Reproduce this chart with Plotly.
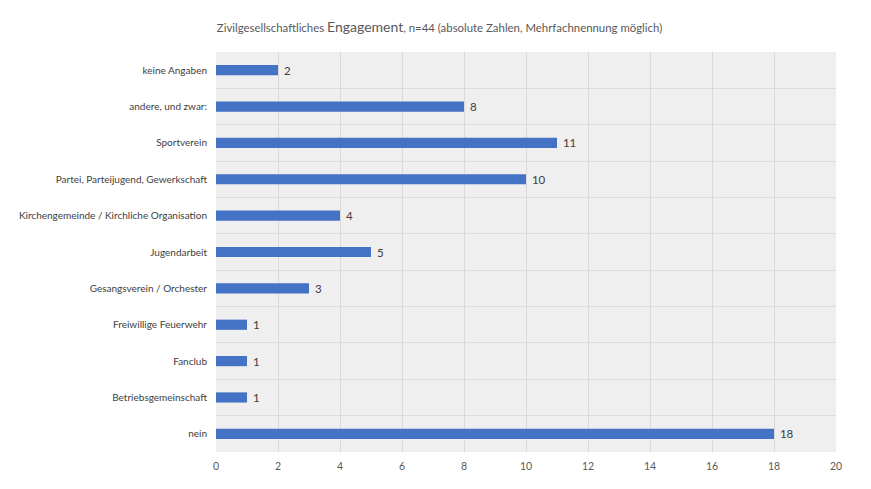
import plotly.graph_objects as go

categories = [
    "keine Angaben",
    "andere, und zwar:",
    "Sportverein",
    "Partei, Parteijugend, Gewerkschaft",
    "Kirchengemeinde / Kirchliche Organisation",
    "Jugendarbeit",
    "Gesangsverein / Orchester",
    "Freiwillige Feuerwehr",
    "Fanclub",
    "Betriebsgemeinschaft",
    "nein",
]
values = [2, 8, 11, 10, 4, 5, 3, 1, 1, 1, 18]
x_ticks = [0, 2, 4, 6, 8, 10, 12, 14, 16, 18, 20]

font_family = "Lato, Open Sans, Liberation Sans, sans-serif"

fig = go.Figure(
    go.Bar(
        x=values,
        y=categories,
        orientation="h",
        marker=dict(color="#4472C4", line=dict(width=0)),
        texttemplate=" %{x}",
        textposition="outside",
        constraintext="none",
        textfont=dict(size=11.5, color="#404040", family=font_family),
        cliponaxis=False,
    )
)

fig.update_layout(
    width=863,
    height=481,
    margin=dict(l=208, r=35, t=44, b=37, autoexpand=False),
    paper_bgcolor="white",
    plot_bgcolor="#efefef",
    bargap=0.72,
    showlegend=False,
    font=dict(family=font_family, size=10, color="#595959"),
    title=dict(
        text="Zivilgesellschaftliches <span style='font-size:14px'>Engagement</span>, n=44 (absolute Zahlen, Mehrfachnennung möglich)",
        x=0.5,
        xanchor="center",
        y=0.958,
        yanchor="middle",
        font=dict(size=11.4, color="#595959", family=font_family),
    ),
)

fig.update_xaxes(
    range=[0, 20],
    tickvals=x_ticks,
    showgrid=True,
    gridcolor="#d9d9d9",
    gridwidth=1,
    zeroline=False,
    showline=False,
    automargin=False,
    ticklabelstandoff=6,
    tickfont=dict(size=10.5, color="#595959"),
    ticks="",
    fixedrange=True,
)

fig.update_yaxes(
    type="category",
    categoryorder="array",
    categoryarray=categories,
    autorange="reversed",
    tickson="boundaries",
    showgrid=True,
    gridcolor="#dcdcdc",
    gridwidth=1,
    showline=False,
    automargin=False,
    ticks="",
    ticklabelstandoff=8,
    tickfont=dict(size=10, color="#404040"),
    fixedrange=True,
)

fig.write_html("out.html")
